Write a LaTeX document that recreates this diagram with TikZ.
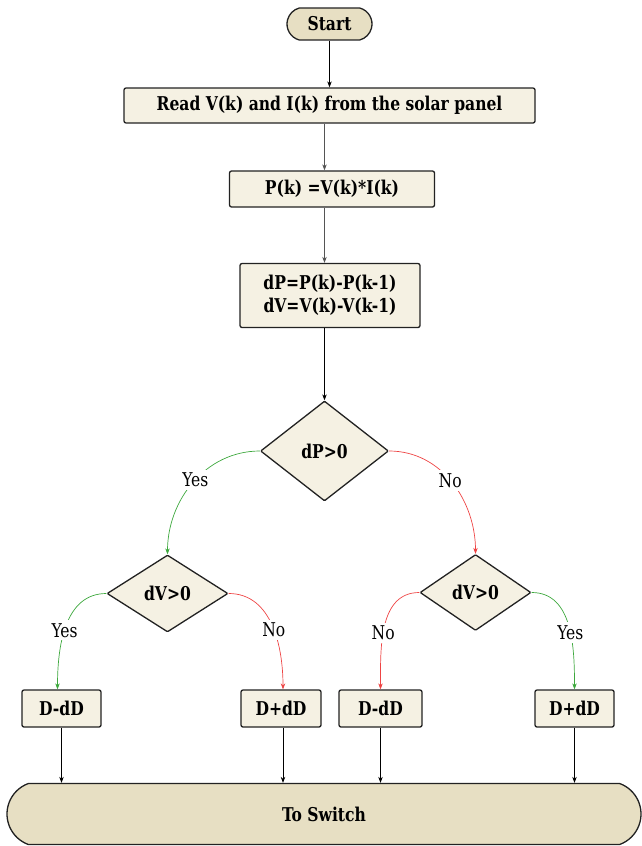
\documentclass[tikz,border=0pt]{standalone}
\usepackage{fontspec}
\setmainfont{DejaVu Serif Condensed}[FakeStretch=0.91]
\usetikzlibrary{shapes.geometric,shapes.misc,arrows.meta}
\definecolor{boxfill}{HTML}{F5F1E3}
\definecolor{termfill}{HTML}{E7DFC3}
\definecolor{edgec}{HTML}{222222}
\definecolor{yesc}{HTML}{3DA83D}
\definecolor{noc}{HTML}{EE4444}
\definecolor{grayarr}{HTML}{555555}
\tikzset{
  basefont/.style={font=\bfseries\fontsize{19}{23}\selectfont},
  proc/.style={draw=edgec, line width=1.3pt, fill=boxfill, rounded corners=2pt, inner sep=0pt, basefont, align=center},
  term/.style={draw=edgec, line width=1.3pt, fill=termfill, rounded rectangle, inner sep=0pt, basefont},
  dec/.style={draw=edgec, line width=1.3pt, fill=boxfill, diamond, inner sep=0pt, basefont, rounded corners=1pt},
  arr/.style={-{Stealth[length=6pt,width=4.5pt]}, line width=0.8pt, draw=black},
  garr/.style={arr, draw=grayarr},
  yesarr/.style={-{Stealth[length=6pt,width=4.5pt]}, line width=0.7pt, draw=yesc},
  noarr/.style={-{Stealth[length=6pt,width=4.5pt]}, line width=0.7pt, draw=noc},
  lbl/.style={fill=white, inner sep=3pt, font=\fontsize{19}{22}\selectfont, text=black}
}
\begin{document}
\begin{tikzpicture}[x=1pt,y=-1pt]
\useasboundingbox (0,0) rectangle (642,846);
\node[term, rounded rectangle arc length=150, minimum width=85pt, minimum height=32pt] (start) at (329.5,24) {Start};
\node[proc, minimum width=411pt, minimum height=35pt] (read) at (329.5,105.5) {Read V(k) and I(k) from the solar panel};
\node[proc, minimum width=205pt, minimum height=36pt] (pk) at (332,189) {P(k) =V(k)*I(k)};
\node[proc, minimum width=180pt, minimum height=64pt] (dpb) at (330,295.5) {dP=P(k)-P(k-1)\\dV=V(k)-V(k-1)};
\node[dec, minimum width=128pt, minimum height=100pt] (d1) at (324.5,451) {dP>0};
\node[dec, minimum width=121pt, minimum height=77pt] (d2) at (167.5,593.5) {dV>0};
\node[dec, minimum width=111pt, minimum height=76pt] (d3) at (475.5,592.5) {dV>0};
\node[proc, minimum width=79pt, minimum height=37pt] (b1) at (61.5,708.5) {D-dD};
\node[proc, minimum width=80pt, minimum height=37pt] (b2) at (281,708.5) {D+dD};
\node[proc, minimum width=83pt, minimum height=37pt] (b3) at (380.5,708.5) {D-dD};
\node[proc, minimum width=79pt, minimum height=37pt] (b4) at (574.5,708.5) {D+dD};
\node[term, rounded rectangle arc length=140, minimum width=634pt, minimum height=61pt] (sw) at (324,814) {To Switch};

\draw[arr] (start.south) -- (read.north -| start.south);
\draw[garr] (read.south -| d1.north) -- (pk.north -| d1.north);
\draw[garr] (pk.south -| d1.north) -- (dpb.north -| d1.north);
\draw[arr] (dpb.south -| d1.north) -- (d1.north);

\draw[yesarr] (d1.west) to[out=180,in=90] node[lbl, pos=0.48] {Yes} (d2.north);
\draw[noarr] (d1.east) to[out=0,in=90] node[lbl, pos=0.48] {No} (d3.north);
\draw[yesarr] (d2.west) to[out=180,in=90] node[lbl, pos=0.54] {Yes} ([xshift=-4pt]b1.north);
\draw[noarr] (d2.east) to[out=0,in=90] node[lbl, pos=0.54] {No} ([xshift=2pt]b2.north);
\draw[noarr] (d3.west) to[out=180,in=90] node[lbl, pos=0.56] {No} (b3.north);
\draw[yesarr] (d3.east) to[out=0,in=90] node[lbl, pos=0.56] {Yes} (b4.north);

\draw[arr] (b1.south) -- (b1.south |- sw.north);
\draw[arr] ([xshift=2pt]b2.south) -- ([xshift=2pt]b2.south |- sw.north);
\draw[arr] (b3.south) -- (b3.south |- sw.north);
\draw[arr] (b4.south) -- (b4.south |- sw.north);
\end{tikzpicture}
\end{document}
